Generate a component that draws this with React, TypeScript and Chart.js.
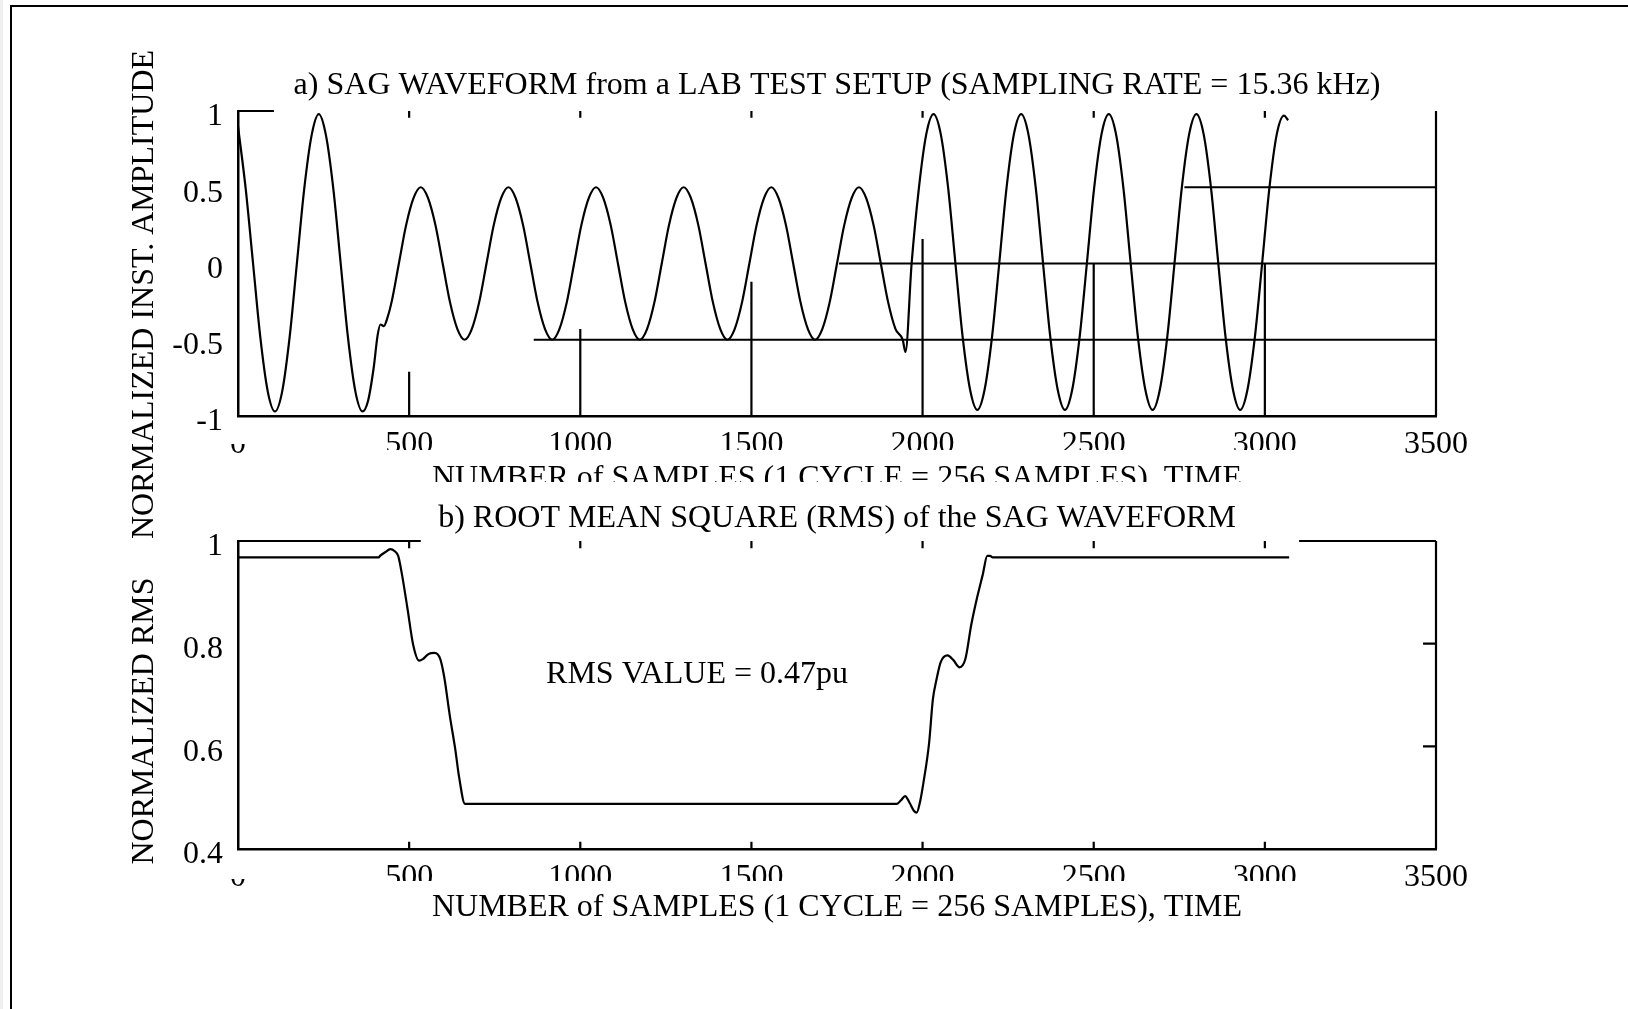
import React, { useEffect, useRef } from "react";
import { Chart, registerables } from "chart.js";

Chart.register(...registerables);

const FONT = "'Liberation Serif', 'Times New Roman', serif";

// ---------- Panel a: sag waveform (sample index, normalized amplitude) ----------
const waveSamples = [
  0, 23, 44, 65, 87, 108, 129, 151, 172, 193, 215, 236, 257, 279, 300, 321, 343, 364,
  380, 396, 408, 416, 426, 436, 449, 470, 491, 513, 534,
  555, 577, 598, 619, 641, 662, 683, 705, 726, 747, 769, 790,
  811, 833, 854, 875, 897, 918, 939, 961, 982, 1003, 1025, 1046,
  1067, 1089, 1110, 1131, 1153, 1174, 1195, 1217, 1238, 1259, 1281, 1302,
  1323, 1345, 1366, 1387, 1409, 1430, 1451, 1473, 1494, 1515, 1537, 1558,
  1579, 1601, 1622, 1643, 1665, 1686, 1707, 1729, 1750, 1771, 1793, 1814,
  1835, 1857, 1878, 1899, 1921, 1942, 1950, 1968,
  1989, 2011, 2032,
  2053, 2075, 2096, 2117, 2139, 2160, 2181, 2203, 2224, 2245, 2267, 2288,
  2309, 2331, 2352, 2373, 2395, 2416, 2437, 2459, 2480, 2501, 2523, 2544,
  2565, 2587, 2608, 2629, 2651, 2672, 2693, 2715, 2736, 2757, 2779, 2800,
  2821, 2843, 2864, 2885, 2907, 2928, 2949, 2971, 2992, 3013, 3035, 3056,
  3068,
];
const waveValues = [
  0.9, 0.48, 0, -0.48, -0.84, -0.97, -0.84, -0.48, 0, 0.48, 0.84, 0.98, 0.84, 0.48, 0, -0.48, -0.84, -0.97,
  -0.9, -0.69, -0.47, -0.4, -0.41, -0.36, -0.25, 0, 0.25, 0.43, 0.5,
  0.43, 0.25, 0, -0.25, -0.43, -0.5, -0.43, -0.25, 0, 0.25, 0.43, 0.5,
  0.43, 0.25, 0, -0.25, -0.43, -0.5, -0.43, -0.25, 0, 0.25, 0.43, 0.5,
  0.43, 0.25, 0, -0.25, -0.43, -0.5, -0.43, -0.25, 0, 0.25, 0.43, 0.5,
  0.43, 0.25, 0, -0.25, -0.43, -0.5, -0.43, -0.25, 0, 0.25, 0.43, 0.5,
  0.43, 0.25, 0, -0.25, -0.43, -0.5, -0.43, -0.25, 0, 0.25, 0.43, 0.5,
  0.43, 0.25, 0, -0.25, -0.43, -0.5, -0.58, 0,
  0.49, 0.85, 0.98,
  0.85, 0.49, 0, -0.48, -0.83, -0.96, -0.83, -0.48, 0, 0.49, 0.85, 0.98,
  0.85, 0.49, 0, -0.48, -0.83, -0.96, -0.83, -0.48, 0, 0.49, 0.85, 0.98,
  0.85, 0.49, 0, -0.48, -0.83, -0.96, -0.83, -0.48, 0, 0.49, 0.85, 0.98,
  0.85, 0.49, 0, -0.48, -0.83, -0.96, -0.83, -0.48, 0, 0.49, 0.85, 0.97,
  0.94,
];

// ---------- Panel b: RMS of the sag waveform ----------
const rmsSamples = [
  0, 411, 415, 430, 445, 458, 468, 479, 495, 512, 529, 540, 557, 574, 591, 602, 619, 635, 646, 663,
  1925, 1937, 1949, 1962, 1975, 1983, 1992, 2002, 2019, 2030, 2041, 2053, 2073, 2090, 2108, 2125,
  2142, 2159, 2176, 2189, 2197, 2205, 3071,
];
const rmsValues = [
  0.968, 0.968, 0.971, 0.978, 0.984, 0.98, 0.971, 0.935, 0.869, 0.797, 0.767, 0.77, 0.78, 0.782, 0.77, 0.737, 0.659, 0.593, 0.54, 0.488,
  0.488, 0.495, 0.503, 0.49, 0.474, 0.471, 0.49, 0.527, 0.606, 0.691, 0.731, 0.764, 0.777, 0.768, 0.754, 0.77,
  0.836, 0.889, 0.935, 0.971, 0.971, 0.968, 0.968,
];

// ---------- Axes ----------
const xTickValues = [0, 500, 1000, 1500, 2000, 2500, 3000, 3500];
const waveTickValues = [-1, -0.5, 0, 0.5, 1];
const rmsTickValues = [0.4, 0.6, 0.8, 1];

// ---------- Tick / spine marks as they appear in the original figure ----------
const tickSamples = [500, 1000, 1500, 2000, 2500, 3000];
const waveStemTops = [-0.71, -0.43, -0.12, 0.16, 0, 0];
const waveRefLevels = [-0.5, 0, 0.5];
const waveRefStarts = [864, 1756, 2765];
const waveTopStub = [0, 105];
const rmsTopSpans = [
  [0, 534],
  [3100, 3500],
];
const rmsRightTicks = [0.6, 0.8];

type Seg = [number, number, number, number];

function segData(segs: Seg[]) {
  const out: { x: number; y: number | null }[] = [];
  segs.forEach(([x1, y1, x2, y2]) => {
    out.push({ x: x1, y: y1 }, { x: x2, y: y2 }, { x: x2, y: null });
  });
  return out;
}

function waveMarks(): Seg[] {
  const s: Seg[] = [];
  s.push([3500, -1, 3500, 1]);
  s.push([waveTopStub[0], 1, waveTopStub[1], 1]);
  tickSamples.forEach((x, i) => {
    s.push([x, 1, x, 0.955]);
    s.push([x, -1, x, waveStemTops[i]]);
  });
  waveRefLevels.forEach((lv, i) => s.push([waveRefStarts[i], lv, 3500, lv]));
  return s;
}

function rmsMarks(): Seg[] {
  const s: Seg[] = [];
  s.push([3500, 0.4, 3500, 1]);
  rmsTopSpans.forEach(([a, b]) => s.push([a, 1, b, 1]));
  tickSamples.forEach((x) => {
    s.push([x, 1, x, 0.986]);
    s.push([x, 0.4, x, 0.414]);
  });
  rmsRightTicks.forEach((v) => s.push([3462, v, 3500, v]));
  return s;
}

const framePlugin = {
  id: "frame",
  afterDraw(chart: any, _a: any, opts: any) {
    if (!opts || !opts.enabled) return;
    const ctx = chart.ctx;
    ctx.save();
    ctx.fillStyle = "#efefef";
    ctx.fillRect(0, 0, 3, chart.height);
    ctx.strokeStyle = "#000";
    ctx.lineWidth = 2;
    ctx.beginPath();
    ctx.moveTo(11, chart.height);
    ctx.lineTo(11, 6);
    ctx.lineTo(chart.width, 6);
    ctx.stroke();
    ctx.restore();
  },
};

const panelTextPlugin = {
  id: "panelText",
  afterDraw(chart: any, _a: any, opts: any) {
    if (!opts || !opts.title) return;
    const { ctx, chartArea } = chart;
    const cx = (chartArea.left + chartArea.right) / 2;
    ctx.save();

    // partial erasure of tick labels, as in the scanned original
    if (opts.masks) {
      ctx.fillStyle = "#fff";
      opts.masks.forEach((m: number[]) => {
        ctx.fillRect(m[0], chartArea.bottom + m[1], m[2], m[3]);
      });
    }

    ctx.fillStyle = "#000";
    ctx.font = `32px ${FONT}`;
    ctx.textAlign = "center";
    ctx.textBaseline = "alphabetic";
    ctx.fillText(opts.title, cx, chartArea.top + opts.titleDy);

    ctx.save();
    if (opts.xlabelClip) {
      ctx.beginPath();
      ctx.rect(0, 0, chart.width, chartArea.bottom + opts.xlabelClip);
      ctx.clip();
    }
    ctx.fillText(opts.xlabel, cx, chartArea.bottom + opts.xlabelDy);
    ctx.restore();

    ctx.save();
    ctx.translate(opts.ylabelX, (chartArea.top + chartArea.bottom) / 2 + opts.ylabelDy);
    ctx.rotate(-Math.PI / 2);
    ctx.fillText(opts.ylabel, 0, 0);
    ctx.restore();

    if (opts.note) {
      const x = chart.scales.x.getPixelForValue(opts.note.x);
      const y = chart.scales.y.getPixelForValue(opts.note.y);
      ctx.fillText(opts.note.text, x, y);
    }
    ctx.restore();
  },
};

function axisCfg(ticksArr: number[], isY: boolean, min: number, max: number) {
  return {
    type: "linear" as const,
    min,
    max,
    afterBuildTicks: (s: any) => {
      s.ticks = ticksArr.map((v) => ({ value: v }));
    },
    afterFit: (s: any) => {
      if (isY) s.width = 238;
      else s.height = 40;
    },
    grid: { display: false, drawTicks: false },
    border: { display: true, color: "#000", width: 2.5 },
    ticks: {
      font: { family: FONT, size: 32 },
      color: "#000",
      padding: isY ? 15 : 9,
      labelOffset: isY ? 6 : 0,
      autoSkip: false,
      maxRotation: 0,
      callback: (v: any) => String(v),
    },
  };
}

function makeConfig(
  lineData: { x: number; y: number }[],
  marks: Seg[],
  yTicks: number[],
  yMin: number,
  yMax: number,
  padding: any,
  text: any,
  frame: boolean
) {
  return {
    type: "line" as const,
    data: {
      datasets: [
        {
          data: lineData,
          borderColor: "#000",
          borderWidth: 2.2,
          pointRadius: 0,
          cubicInterpolationMode: "monotone" as const,
          fill: false,
        },
        {
          data: segData(marks),
          borderColor: "#000",
          borderWidth: 2.2,
          pointRadius: 0,
          spanGaps: false,
          tension: 0,
          fill: false,
          clip: false as const,
        },
      ],
    },
    options: {
      responsive: false,
      animation: false as const,
      events: [],
      layout: { padding },
      plugins: {
        legend: { display: false },
        tooltip: { enabled: false },
        title: { display: false },
        panelText: text,
        frame: { enabled: frame },
      },
      scales: {
        x: axisCfg(xTickValues, false, 0, 3500),
        y: axisCfg(yTicks, true, yMin, yMax),
      },
    },
    plugins: [framePlugin, panelTextPlugin],
  };
}

export default function App() {
  const refA = useRef<HTMLCanvasElement | null>(null);
  const refB = useRef<HTMLCanvasElement | null>(null);

  useEffect(() => {
    const waveData = waveSamples.map((x, i) => ({ x, y: waveValues[i] }));
    const rmsData = rmsSamples.map((x, i) => ({ x, y: rmsValues[i] }));

    const chartA = new Chart(
      refA.current as HTMLCanvasElement,
      makeConfig(
        waveData,
        waveMarks(),
        waveTickValues,
        -1,
        1,
        { left: 0, top: 111, right: 192, bottom: 1009 - 416 - 40 },
        {
          title: "a) SAG WAVEFORM from a LAB TEST SETUP (SAMPLING RATE = 15.36 kHz)",
          titleDy: -17,
          xlabel: "NUMBER of SAMPLES (1 CYCLE = 256 SAMPLES), TIME",
          xlabelDy: 71,
          xlabelClip: 66,
          ylabel: "NORMALIZED INST. AMPLITUDE",
          ylabelX: 153,
          ylabelDy: 31,
          masks: [
            [258, 34, 1070, 14],
            [222, 12, 32, 16],
          ],
        },
        true
      ) as any
    );

    const chartB = new Chart(
      refB.current as HTMLCanvasElement,
      makeConfig(
        rmsData,
        rmsMarks(),
        rmsTickValues,
        0.4,
        1,
        { left: 0, top: 541, right: 192, bottom: 1009 - 849 - 40 },
        {
          title: "b) ROOT MEAN SQUARE (RMS) of the SAG WAVEFORM",
          titleDy: -14,
          xlabel: "NUMBER of SAMPLES (1 CYCLE = 256 SAMPLES), TIME",
          xlabelDy: 67,
          xlabelClip: 0,
          ylabel: "NORMALIZED RMS",
          ylabelX: 153,
          ylabelDy: 26,
          note: { text: "RMS VALUE = 0.47pu", x: 1341, y: 0.723 },
          masks: [
            [258, 32, 1070, 12],
            [222, 8, 32, 22],
          ],
        },
        false
      ) as any
    );

    return () => {
      chartA.destroy();
      chartB.destroy();
    };
  }, []);

  const canvasStyle: React.CSSProperties = {
    position: "absolute",
    left: 0,
    top: 0,
    width: 1628,
    height: 1009,
  };

  return (
    <div
      style={{
        position: "fixed",
        left: 0,
        top: 0,
        width: 1628,
        height: 1009,
        background: "#fff",
        overflow: "hidden",
      }}
    >
      <canvas ref={refA} width={1628} height={1009} style={canvasStyle} />
      <canvas ref={refB} width={1628} height={1009} style={canvasStyle} />
    </div>
  );
}
